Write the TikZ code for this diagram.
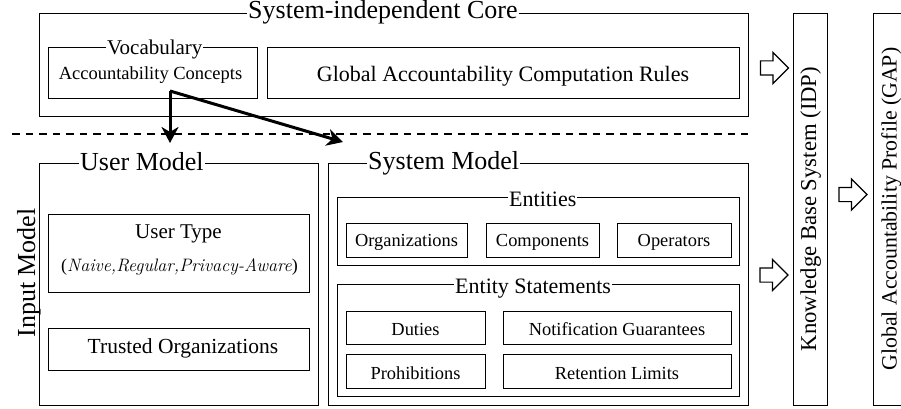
\documentclass[tikz,border=0pt]{standalone}
\usepackage{fontspec}
\setmainfont{Liberation Serif}
\usetikzlibrary{arrows.meta,shapes.arrows}
\newcommand\fsz[1]{\fontsize{#1}{#1}\selectfont}
\newcommand\lmit{\usefont{TU}{lmr}{m}{it}}
\begin{document}
\begin{tikzpicture}[x=1pt,y=-1pt,
  box/.style={draw,line width=1.2pt,rectangle,inner sep=0pt,anchor=north west},
  ttl/.style={fill=white,inner xsep=1pt,inner ysep=0pt,anchor=base west},
  txt/.style={inner sep=0pt,anchor=base},
  blk/.style={single arrow,draw,line width=1.2pt,minimum height=28pt,
    single arrow head extend=8.5pt,single arrow tip angle=90,
    inner xsep=0pt,inner ysep=6.5pt,text height=0pt,text depth=0pt},
  flow/.style={line width=3pt,-{Stealth[length=16pt,width=17pt,inset=5pt]}}]
\useasboundingbox (0,0) rectangle (901,409);
\clip (0,0) rectangle (901,409);
% core
\node[box,minimum width=709pt,minimum height=103pt] (core) at (39,13) {};
\node[ttl] (coret) at (247,19) {\fsz{26}System-independent Core};
\node[box,minimum width=209pt,minimum height=51pt] (vocab) at (48,47) {};
\node[ttl] (vocabt) at (106,55) {\fsz{21}Vocabulary};
\node[txt] (acc) at (150.5,80) {\fsz{18.5}Accountability Concepts};
\node[box,minimum width=472pt,minimum height=51pt] (rules) at (267,47) {};
\node[txt] (rulest) at (503,81.5) {\fsz{22}Global Accountability Computation Rules};
% dashed separator
\coordinate (dl) at (12,134);
\coordinate (dr) at (748,134);
\draw[line width=1.2pt,dash pattern=on 7.5pt off 6pt] (dl) -- (dr);
% input model
\node[txt,rotate=90] (input) at (35,273) {\fsz{26}Input Model};
% user model
\node[box,minimum width=279pt,minimum height=242pt] (user) at (39,163) {};
\node[ttl] (usert) at (79,170) {\fsz{26}User Model};
\node[box,minimum width=261pt,minimum height=78pt] (utype) at (48,214) {};
\node[txt] (utypet) at (178.5,238) {\fsz{21}User Type};
\node[txt] (params) at (179.5,271.7) {\fsz{18}({\lmit Naive,Regular,Privacy-Aware\/})};
\node[box,minimum width=261pt,minimum height=42pt] (trusted) at (48,328) {};
\node[txt] (trustedt) at (183,353) {\fsz{21.5}Trusted Organizations};
% system model
\node[box,minimum width=420pt,minimum height=242pt] (sys) at (328,163) {};
\node[ttl] (syst) at (367,169) {\fsz{26}System Model};
\node[box,minimum width=402pt,minimum height=68pt] (ent) at (337,197) {};
\node[ttl] (entt) at (508,206) {\fsz{22}Entities};
\node[box,minimum width=121pt,minimum height=34pt] (org) at (346,223) {};
\node[txt] (orgt) at (406.5,246.7) {\fsz{18.4}Organizations};
\node[box,minimum width=113pt,minimum height=34pt] (comp) at (486,223) {};
\node[txt] (compt) at (542.5,246.7) {\fsz{18.4}Components};
\node[box,minimum width=114pt,minimum height=34pt] (oper) at (617,223) {};
\node[txt] (opert) at (674,246.7) {\fsz{18.4}Operators};
\node[box,minimum width=402pt,minimum height=112pt] (stm) at (337,284) {};
\node[ttl] (stmt) at (454,293) {\fsz{22}Entity Statements};
\node[box,minimum width=139pt,minimum height=33pt] (duties) at (346,311) {};
\node[txt] (dutiest) at (415.5,335) {\fsz{18.4}Duties};
\node[box,minimum width=228pt,minimum height=33pt] (notif) at (503,311) {};
\node[txt] (notift) at (617,335) {\fsz{18.4}Notification Guarantees};
\node[box,minimum width=139pt,minimum height=34pt] (prohib) at (346,354) {};
\node[txt] (prohibt) at (415.5,379) {\fsz{18.4}Prohibitions};
\node[box,minimum width=228pt,minimum height=34pt] (reten) at (503,354) {};
\node[txt] (retent) at (617,379) {\fsz{18.4}Retention Limits};
% right columns
\node[box,minimum width=34pt,minimum height=392pt] (kbs) at (793,13) {};
\node[txt,rotate=90] (kbst) at (816,209) {\fsz{22.7}Knowledge Base System (IDP)};
\node[box,minimum width=34pt,minimum height=392pt] (gap) at (873,13) {};
\node[txt,rotate=90] (gapt) at (896.5,209) {\fsz{21.8}Global Accountability Profile (GAP)};
% block arrows
\node[blk] (b1) at (771,68) {};
\node[blk] (b2) at (770.5,275) {};
\node[blk] (b3) at (849.5,194.5) {};
% flow arrows
\coordinate (src) at (170,91);
\coordinate (t1) at (170,143);
\coordinate (t2) at (343,142);
\draw[flow] (src) -- (t1);
\draw[flow] (src) -- (t2);
\end{tikzpicture}
\end{document}
